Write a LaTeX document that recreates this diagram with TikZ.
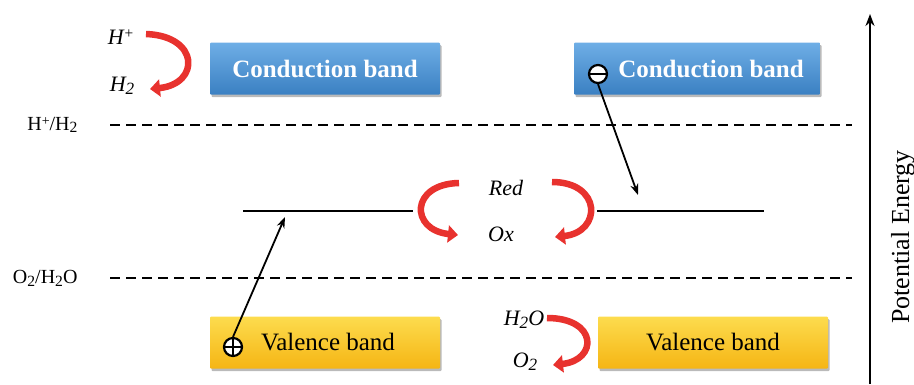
\documentclass[tikz,border=0pt]{standalone}
\usepackage{fontspec}
\usepackage{graphicx}
\setmainfont{Liberation Serif}
\usetikzlibrary{arrows.meta,shadows}
\definecolor{redA}{HTML}{E8322E}
\definecolor{blueT}{HTML}{6FAEE6}
\definecolor{blueB}{HTML}{3A80C2}
\definecolor{yelT}{HTML}{FDDC4E}
\definecolor{yelB}{HTML}{F5B514}
\newcommand\lowtxt[1]{\raisebox{-0.3ex}{\scalebox{0.78}{#1}}}
\newcommand\hightxt[1]{\raisebox{0.55ex}{\scalebox{0.7}{#1}}}
\begin{document}
\begin{tikzpicture}[x=1pt,y=-1pt,
  bandbox/.style={minimum width=230pt, minimum height=52pt, inner sep=0pt,
    rounded corners=1pt,
    drop shadow={shadow xshift=1.5pt, shadow yshift=-2.5pt, fill=black!60, opacity=0.45}},
  cbbox/.style={bandbox, top color=blueT, bottom color=blueB, text=white,
    font=\fontsize{25}{28}\selectfont\bfseries},
  vbbox/.style={bandbox, top color=yelT, bottom color=yelB, text=black,
    font=\fontsize{25}{28}\selectfont},
  potline/.style={line width=2pt, dash pattern=on 10pt off 6pt},
  level/.style={line width=2pt},
  elarrow/.style={line width=1.8pt, -{Stealth[length=11pt,width=8pt]}},
  redarrow/.style={draw=redA, line width=6.5pt, -{Triangle[length=10pt,width=17pt]}},
  rlabel/.style={font=\fontsize{20}{24}\selectfont},
  ilabel/.style={font=\fontsize{22}{24}\selectfont\itshape},
  charge/.style={circle, draw, fill=white, line width=2.2pt, minimum size=18pt, inner sep=0pt}
]
\useasboundingbox (0,0) rectangle (914,384);

% bands
\node[cbbox] (cbl) at (325,68.5) {Conduction band};
\node[cbbox, minimum width=246pt] (cbr) at (697,68.5) {\hspace{28pt}Conduction band};
\node[vbbox] (vbl) at (325,342.5) {\hspace{6pt}Valence band};
\node[vbbox] (vbr) at (713,342.5) {Valence band};

% charges
\node[charge, path picture={\draw[line width=2.2pt] (path picture bounding box.west) -- (path picture bounding box.east);}] (minus) at (598,74) {};
\node[charge, path picture={\draw[line width=2.2pt] (path picture bounding box.west) -- (path picture bounding box.east);
  \draw[line width=2.2pt] (path picture bounding box.north) -- (path picture bounding box.south);}] (plus) at (233,347) {};

% potential lines
\coordinate (hA) at (110,125);
\coordinate (hB) at (852,125);
\coordinate (oA) at (110,278);
\coordinate (oB) at (852,278);
\draw[potline] (hA) -- (hB);
\draw[potline] (oA) -- (oB);
\node[rlabel, anchor=east] (hlab) at (81,125) {H\hightxt{+}/H\lowtxt{2}};
\node[rlabel, anchor=east] (olab) at (81,278) {O\lowtxt{2}/H\lowtxt{2}O};

% levels
\coordinate (lA) at (243,211);
\coordinate (lB) at (413,211);
\coordinate (rA) at (597,211);
\coordinate (rB) at (764,211);
\draw[level] (lA) -- (lB);
\draw[level] (rA) -- (rB);

% electron / hole arrows
\coordinate (ltip) at (285,217);
\coordinate (rtip) at (638,195);
\draw[elarrow] (plus.north) -- (ltip);
\draw[elarrow] (minus.south) -- (rtip);

% labels
\node[ilabel] (hp) at (121,37) {H\hightxt{+}};
\node[ilabel] (h2) at (122,86) {H\lowtxt{2}};
\node[ilabel] (red) at (506,188) {Red};
\node[ilabel] (ox) at (501,234) {Ox};
\node[ilabel] (h2o) at (524,320) {H\lowtxt{2}O};
\node[ilabel] (o2) at (525,362) {O\lowtxt{2}};

% red arrows
\coordinate (a1s) at (146,34);
\coordinate (a1e) at (150,89);
\draw[redarrow] (a1s) .. controls (200,36) and (200,84) .. (a1e);
\coordinate (a2s) at (459,183);
\coordinate (a2e) at (458,235);
\draw[redarrow] (a2s) .. controls (410,184) and (410,230) .. (a2e);
\coordinate (a3s) at (552,182);
\coordinate (a3e) at (555,237);
\draw[redarrow] (a3s) .. controls (602,182) and (602,232) .. (a3e);
\coordinate (a4s) at (547,318);
\coordinate (a4e) at (553,365);
\draw[redarrow] (a4s) .. controls (598,318) and (598,360) .. (a4e);

% axis
\coordinate (axB) at (870,384);
\coordinate (axT) at (870,14);
\draw[line width=2pt, -{Stealth[length=12pt,width=9pt]}] (axB) -- (axT);
\node[rotate=90, font=\fontsize{26}{30}\selectfont] (pe) at (903,237) {Potential Energy};
\end{tikzpicture}
\end{document}
